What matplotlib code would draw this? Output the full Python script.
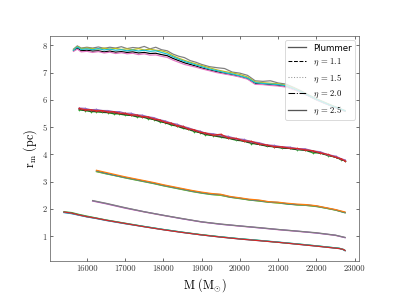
import matplotlib
matplotlib.use("Agg")
import matplotlib.pyplot as plt
from matplotlib.lines import Line2D

# ---------------- data ----------------
x1 = [15650,15750,15850,16000,16150,16300,16450,16600,16750,16900,17050,17200,17350,17500,17650,17800,17950,18100,18250,18400,18550,18700,18850,19000,19200,19400,19600,19800,20000,20200,20400,20600,20800,21000,21200,21400,21600,21800,22000,22200,22400,22600,22750]
b1_gray  = [7.86,7.98,7.90,7.93,7.90,7.94,7.89,7.93,7.90,7.95,7.88,7.92,7.90,7.96,7.87,7.93,7.84,7.80,7.68,7.60,7.55,7.44,7.38,7.30,7.22,7.18,7.15,7.02,6.98,6.90,6.70,6.68,6.70,6.62,6.58,6.46,6.33,6.18,6.04,5.92,5.80,5.69,5.61]
b1_olive = [7.84,7.96,7.88,7.90,7.88,7.86,7.90,7.86,7.89,7.85,7.87,7.84,7.88,7.83,7.86,7.82,7.80,7.74,7.62,7.53,7.45,7.38,7.32,7.26,7.18,7.10,7.04,6.99,6.93,6.84,6.66,6.63,6.61,6.59,6.54,6.44,6.31,6.17,6.03,5.91,5.79,5.68,5.60]
b1_cyan  = [7.82,7.94,7.85,7.87,7.84,7.88,7.83,7.86,7.82,7.84,7.80,7.83,7.79,7.82,7.78,7.80,7.74,7.68,7.58,7.49,7.41,7.35,7.28,7.22,7.13,7.07,7.00,6.95,6.88,6.80,6.63,6.60,6.58,6.56,6.52,6.42,6.30,6.16,6.02,5.90,5.78,5.68,5.60]
b1_black = [7.80,7.90,7.80,7.82,7.79,7.80,7.76,7.79,7.75,7.77,7.74,7.76,7.72,7.74,7.70,7.71,7.66,7.62,7.52,7.44,7.36,7.30,7.24,7.17,7.10,7.03,6.97,6.92,6.86,6.78,6.60,6.58,6.56,6.53,6.49,6.40,6.28,6.15,6.01,5.89,5.78,5.67,5.59]
b1_pink  = [7.78,7.86,7.76,7.78,7.74,7.77,7.72,7.75,7.70,7.73,7.69,7.71,7.66,7.69,7.64,7.65,7.60,7.56,7.46,7.38,7.30,7.25,7.20,7.14,7.07,7.00,6.95,6.90,6.84,6.76,6.57,6.56,6.53,6.51,6.47,6.38,6.27,6.14,6.00,5.88,5.77,5.66,5.58]

x2 = [15800,15950,16100,16250,16400,16550,16700,16850,17000,17150,17300,17450,17600,17750,17900,18050,18200,18350,18500,18650,18800,18950,19100,19300,19500,19700,19900,20100,20300,20500,20700,20900,21100,21300,21500,21700,21900,22100,22300,22500,22650,22750]
b2_purple = [5.70,5.69,5.64,5.65,5.61,5.61,5.57,5.57,5.51,5.51,5.45,5.44,5.38,5.35,5.27,5.23,5.15,5.11,5.03,4.98,4.90,4.86,4.78,4.76,4.70,4.66,4.58,4.55,4.47,4.43,4.35,4.33,4.28,4.27,4.21,4.21,4.13,4.10,3.99,3.94,3.84,3.80]
b2_red    = [5.69,5.64,5.64,5.60,5.61,5.56,5.57,5.51,5.51,5.45,5.45,5.39,5.38,5.30,5.27,5.18,5.15,5.06,5.03,4.94,4.91,4.82,4.79,4.71,4.74,4.61,4.59,4.50,4.48,4.39,4.35,4.29,4.28,4.23,4.22,4.17,4.14,4.06,4.00,3.90,3.84,3.76]
b2_green  = [5.63,5.61,5.57,5.56,5.54,5.53,5.49,5.48,5.44,5.43,5.38,5.37,5.31,5.28,5.20,5.16,5.08,5.04,4.96,4.92,4.84,4.80,4.72,4.69,4.63,4.59,4.52,4.49,4.40,4.37,4.30,4.28,4.23,4.22,4.17,4.16,4.06,4.05,3.96,3.90,3.81,3.77]
b2_black  = [5.66,5.62,5.60,5.58,5.57,5.54,5.53,5.50,5.47,5.44,5.41,5.38,5.34,5.29,5.23,5.17,5.11,5.05,4.99,4.93,4.87,4.81,4.75,4.70,4.66,4.60,4.55,4.49,4.43,4.37,4.32,4.28,4.25,4.22,4.19,4.16,4.11,4.05,3.98,3.90,3.82,3.76]
b2_brown  = [5.67,5.63,5.61,5.59,5.58,5.55,5.54,5.51,5.48,5.45,5.42,5.39,5.35,5.30,5.24,5.18,5.12,5.06,5.00,4.94,4.88,4.82,4.76,4.71,4.67,4.61,4.56,4.50,4.44,4.38,4.33,4.29,4.26,4.23,4.20,4.17,4.12,4.06,3.98,3.90,3.83,3.77]

x3 = [16250,16500,16750,17000,17250,17500,17750,18000,18250,18500,18750,19000,19250,19500,19750,20000,20250,20500,20750,21000,21250,21500,21750,22000,22250,22500,22750]
b3_green  = [3.37,3.29,3.22,3.14,3.07,3.00,2.93,2.85,2.78,2.71,2.64,2.58,2.53,2.50,2.43,2.38,2.33,2.29,2.25,2.22,2.18,2.15,2.13,2.09,2.03,1.96,1.86]
b3_olive  = [3.38,3.30,3.22,3.15,3.08,3.01,2.94,2.86,2.79,2.72,2.65,2.59,2.54,2.51,2.43,2.39,2.33,2.30,2.25,2.22,2.19,2.15,2.13,2.10,2.03,1.96,1.87]
b3_blue   = [3.40,3.31,3.23,3.16,3.09,3.02,2.95,2.87,2.80,2.73,2.66,2.60,2.55,2.53,2.44,2.40,2.34,2.31,2.26,2.24,2.19,2.16,2.15,2.11,2.04,1.97,1.87]
b3_orange = [3.42,3.34,3.26,3.18,3.11,3.04,2.97,2.89,2.82,2.75,2.68,2.62,2.57,2.54,2.46,2.41,2.36,2.33,2.27,2.25,2.21,2.18,2.16,2.12,2.05,1.98,1.89]

x4 = [16150,16500,17000,17500,18000,18500,19000,19500,20000,20500,21000,21500,22000,22500,22750]
b4_pink   = [2.29,2.19,2.03,1.89,1.76,1.64,1.52,1.44,1.37,1.31,1.24,1.18,1.12,1.03,0.95]
b4_purple = [2.30,2.20,2.04,1.90,1.77,1.64,1.53,1.44,1.38,1.31,1.25,1.19,1.12,1.04,0.95]
b4_gray   = [2.31,2.21,2.05,1.90,1.77,1.65,1.53,1.45,1.38,1.32,1.25,1.19,1.13,1.04,0.96]

x5 = [15400,15600,15800,16000,16250,16500,16750,17000,17500,18000,18500,19000,19500,20000,20500,21000,21500,22000,22400,22600,22700,22750]
b5_blue  = [1.87,1.83,1.77,1.71,1.65,1.58,1.52,1.46,1.35,1.24,1.14,1.05,0.97,0.90,0.84,0.78,0.71,0.64,0.58,0.55,0.51,0.47]
b5_green = [1.90,1.87,1.80,1.74,1.67,1.60,1.54,1.48,1.36,1.25,1.15,1.06,0.98,0.91,0.85,0.78,0.72,0.65,0.59,0.56,0.52,0.48]
b5_cyan  = [1.88,1.84,1.78,1.72,1.66,1.59,1.53,1.47,1.36,1.25,1.15,1.05,0.98,0.91,0.85,0.79,0.72,0.65,0.59,0.56,0.52,0.48]
b5_red   = [1.89,1.85,1.78,1.72,1.66,1.59,1.53,1.47,1.35,1.24,1.14,1.05,0.97,0.90,0.84,0.78,0.71,0.64,0.58,0.55,0.52,0.48]

legend_labels = ["Plummer", r"$\eta\,=\,1.1$", r"$\eta\,=\,1.5$", r"$\eta\,=\,2.0$", r"$\eta\,=\,2.5$"]
xticks = [16000, 17000, 18000, 19000, 20000, 21000, 22000, 23000]
yticks = [1, 2, 3, 4, 5, 6, 7, 8]

# ---------------- style ----------------
plt.rcParams['font.family'] = 'serif'
plt.rcParams['font.serif'] = ['cmr10', 'DejaVu Serif']
plt.rcParams['mathtext.fontset'] = 'cm'
plt.rcParams['axes.unicode_minus'] = False

fig = plt.figure(figsize=(6.4, 4.8), dpi=62.35)
ax = fig.add_axes([0.125, 0.127, 0.775, 0.753])

lw = 1.4
series = [
    (x1, b1_black, 'black', None), (x1, b1_pink, '#e377c2', None), (x1, b1_gray, '#7f7f7f', None),
    (x1, b1_olive, '#bcbd22', None), (x1, b1_cyan, '#17becf', None),
    (x2, b2_green, '#2ca02c', '+'), (x2, b2_black, 'black', None), (x2, b2_brown, '#8c564b', None),
    (x2, b2_purple, '#9467bd', '+'), (x2, b2_red, '#d62728', '+'),
    (x3, b3_green, '#2ca02c', None), (x3, b3_olive, '#bcbd22', None), (x3, b3_blue, '#1f77b4', None),
    (x3, b3_orange, '#ff7f0e', None),
    (x4, b4_pink, '#e377c2', None), (x4, b4_purple, '#9467bd', None), (x4, b4_gray, '#7f7f7f', None),
    (x5, b5_blue, '#1f77b4', None), (x5, b5_green, '#2ca02c', None), (x5, b5_cyan, '#17becf', None),
    (x5, b5_red, '#d62728', None),
]
for xs, ys, c, m in series:
    ax.plot(xs, ys, color=c, lw=lw, marker=m, ms=3, mew=0.7)

ax.set_xticks(xticks)
ax.set_yticks(yticks)
ax.tick_params(direction='in', top=True, right=True, labelsize=10,
               colors='#333333', length=4)
for s in ax.spines.values():
    s.set_color('#555555')

ax.set_xlabel(r'$\mathrm{M\ (M_{\odot})}$', fontsize=14)
ax.set_ylabel(r'$\mathrm{r_m\ (pc)}$', fontsize=14)

handles = [
    Line2D([], [], color='#555555', lw=1.5, ls='-'),
    Line2D([], [], color='black', lw=1.2, ls='--'),
    Line2D([], [], color='#999999', lw=1.2, ls=':'),
    Line2D([], [], color='black', lw=1.2, ls='-.'),
    Line2D([], [], color='#555555', lw=1.5, ls='-'),
]
leg = ax.legend(handles, legend_labels, loc='upper right', fontsize=10)
leg.get_texts()[0].set_family('DejaVu Sans')

fig.savefig('out.png', dpi=62.35)
